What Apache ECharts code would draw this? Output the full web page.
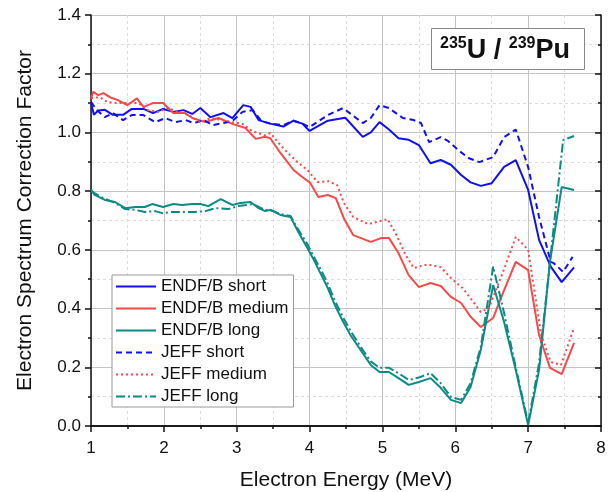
<!DOCTYPE html>
<html><head><meta charset="utf-8">
<script src="https://cdn.jsdelivr.net/npm/echarts@6/dist/echarts.min.js"></script>
<style>html,body{margin:0;padding:0;background:#fff}#c{width:610px;height:492px}</style>
</head><body><div id="c"></div>
<script>
// Energies (MeV) and correction factors
const endfShortE = [1.0,1.04,1.1,1.19,1.3,1.44,1.56,1.72,1.85,1.99,2.13,2.27,2.39,2.5,2.64,2.82,2.94,3.09,3.19,3.3,3.39,3.46,3.64,3.78,3.9,4.0,4.25,4.49,4.73,4.84,4.96,5.09,5.22,5.36,5.5,5.66,5.8,5.94,6.08,6.21,6.35,6.5,6.67,6.83,7.0,7.15,7.31,7.46,7.63];
const endfShortV = [1.10,1.06,1.075,1.077,1.06,1.06,1.08,1.08,1.066,1.08,1.07,1.076,1.063,1.083,1.052,1.066,1.049,1.093,1.087,1.042,1.035,1.03,1.02,1.04,1.03,1.005,1.04,1.05,0.985,1.0,1.035,1.01,0.98,0.975,0.957,0.895,0.906,0.89,0.855,0.83,0.818,0.827,0.883,0.906,0.804,0.634,0.543,0.49,0.54];

const endfMedE = [1.0,1.03,1.1,1.17,1.26,1.37,1.5,1.63,1.72,1.85,1.99,2.13,2.29,2.39,2.57,2.75,2.94,3.12,3.26,3.39,3.46,3.6,3.78,3.9,4.01,4.12,4.25,4.36,4.47,4.6,4.84,4.98,5.09,5.22,5.36,5.5,5.66,5.8,5.94,6.08,6.21,6.35,6.52,6.67,6.83,7.0,7.15,7.3,7.46,7.63];
const endfMedV = [1.115,1.138,1.127,1.134,1.12,1.11,1.093,1.116,1.087,1.1,1.1,1.066,1.066,1.049,1.035,1.049,1.029,1.015,0.978,0.985,0.98,0.93,0.872,0.848,0.828,0.78,0.787,0.776,0.708,0.65,0.627,0.64,0.64,0.589,0.514,0.473,0.487,0.477,0.44,0.419,0.372,0.337,0.368,0.463,0.559,0.531,0.31,0.198,0.177,0.283];

const endfLongE = [1.0,1.05,1.19,1.33,1.47,1.61,1.74,1.84,1.99,2.13,2.25,2.39,2.5,2.61,2.78,2.94,3.05,3.19,3.3,3.39,3.46,3.6,3.74,3.83,3.97,4.05,4.15,4.25,4.35,4.45,4.56,4.7,4.84,4.96,5.09,5.22,5.36,5.5,5.66,5.8,5.94,6.08,6.21,6.35,6.52,6.67,6.83,7.0,7.15,7.3,7.46,7.63];
const endfLongV = [0.805,0.787,0.77,0.763,0.742,0.746,0.746,0.756,0.746,0.756,0.753,0.756,0.756,0.749,0.773,0.753,0.76,0.763,0.742,0.732,0.736,0.719,0.712,0.668,0.606,0.57,0.52,0.47,0.41,0.36,0.31,0.259,0.208,0.184,0.184,0.163,0.14,0.15,0.163,0.13,0.089,0.078,0.133,0.259,0.48,0.354,0.191,0.003,0.191,0.56,0.814,0.804];

const jeffShortE = [1.0,1.08,1.19,1.3,1.44,1.56,1.72,1.88,2.02,2.16,2.3,2.41,2.55,2.67,2.82,2.94,3.08,3.22,3.33,3.39,3.46,3.64,3.78,3.9,4.0,4.25,4.46,4.73,4.84,4.96,5.09,5.28,5.43,5.53,5.64,5.8,5.9,6.04,6.18,6.33,6.52,6.67,6.83,7.0,7.15,7.31,7.35,7.48,7.61];
const jeffShortV = [1.104,1.076,1.052,1.066,1.042,1.059,1.059,1.035,1.049,1.035,1.042,1.032,1.042,1.025,1.032,1.039,1.07,1.076,1.042,1.035,1.03,1.025,1.04,1.03,1.018,1.059,1.083,1.032,1.049,1.093,1.083,1.049,1.042,1.032,0.967,0.984,0.971,0.94,0.913,0.899,0.916,0.984,1.01,0.882,0.712,0.559,0.555,0.525,0.576];

const jeffMedE = [1.0,1.12,1.23,1.36,1.51,1.65,1.78,1.92,2.06,2.2,2.33,2.5,2.64,2.8,2.94,3.08,3.21,3.39,3.46,3.6,3.7,3.83,3.97,4.11,4.26,4.38,4.47,4.6,4.8,4.93,5.07,5.18,5.32,5.43,5.57,5.66,5.8,5.94,6.1,6.25,6.35,6.46,6.65,6.83,7.0,7.18,7.31,7.45,7.62];
const jeffMedV = [1.117,1.12,1.103,1.1,1.1,1.1,1.076,1.07,1.083,1.07,1.06,1.035,1.049,1.042,1.035,1.029,1.005,0.99,0.998,0.957,0.93,0.9,0.872,0.831,0.834,0.82,0.76,0.712,0.688,0.695,0.705,0.657,0.582,0.538,0.548,0.548,0.541,0.504,0.47,0.422,0.388,0.402,0.521,0.644,0.6,0.31,0.218,0.208,0.327];

const jeffLongE = [1.0,1.14,1.33,1.47,1.61,1.74,1.88,1.98,2.11,2.29,2.43,2.57,2.71,2.89,3.02,3.22,3.39,3.46,3.6,3.74,3.83,3.97,4.05,4.15,4.25,4.35,4.45,4.56,4.7,4.84,4.96,5.09,5.22,5.36,5.5,5.66,5.8,5.94,6.08,6.21,6.35,6.52,6.67,6.83,7.0,7.15,7.48,7.63];
const jeffLongV = [0.80,0.78,0.76,0.739,0.736,0.729,0.732,0.725,0.729,0.729,0.729,0.732,0.742,0.739,0.749,0.756,0.736,0.736,0.722,0.715,0.675,0.62,0.58,0.535,0.485,0.425,0.375,0.325,0.27,0.22,0.198,0.198,0.18,0.157,0.165,0.18,0.146,0.099,0.089,0.146,0.27,0.543,0.385,0.2,0.01,0.215,0.974,0.988];

const seriesNames = ['ENDF/B short','ENDF/B medium','ENDF/B long','JEFF short','JEFF medium','JEFF long'];
const xTicks = [1,2,3,4,5,6,7,8];
const yTicks = [0,0.2,0.4,0.6,0.8,1.0,1.2,1.4];

const BLUE = '#1010f5', RED = '#f44a4a', TEAL = '#0d8a84';
const FONT = 'Liberation Sans, Arial, sans-serif';

function pairs(E, V) { return E.map((e, i) => [e, V[i]]); }
function mk(name, E, V, color, type) {
  return { name, type: 'line', data: pairs(E, V), symbol: 'none', showSymbol: false, xAxisIndex: 0, yAxisIndex: 0,
    lineStyle: { color, width: 2, type }, itemStyle: { color }, animation: false };
}

const chart = echarts.init(document.getElementById('c'));
chart.setOption({
  backgroundColor: '#fff',
  animation: false,
  grid: { left: 91, right: 9, top: 15, bottom: 66, containLabel: false, outerBoundsMode: 'none' },
  xAxis: [{
    type: 'value', min: xTicks[0], max: xTicks[xTicks.length - 1], interval: 1,
    name: 'Electron Energy (MeV)', nameLocation: 'middle', nameGap: 44,
    nameTextStyle: { fontSize: 21, fontFamily: FONT, color: '#111' },
    axisLine: { show: true, lineStyle: { color: '#111', width: 1.5 } },
    axisTick: { show: true, inside: false, length: 6, lineStyle: { color: '#111', width: 1.5 } },
    minorTick: { show: true, splitNumber: 2, length: 3, lineStyle: { color: '#111', width: 1.5 } },
    axisLabel: { fontSize: 17, fontFamily: FONT, color: '#111', margin: 14 },
    splitLine: { show: true, lineStyle: { color: '#c4c4c4', width: 1 } },
    minorSplitLine: { show: true, lineStyle: { color: '#dcdcdc', width: 1, type: [3, 3] } }
  }, {
    type: 'value', position: 'top', min: 1, max: 8, interval: 1,
    axisLine: { show: true, lineStyle: { color: '#111', width: 1.5 } },
    axisTick: { show: true, inside: true, length: 6, lineStyle: { color: '#111', width: 1.5 } },
    minorTick: { show: true, splitNumber: 2, length: 3, lineStyle: { color: '#111', width: 1.5 } },
    axisLabel: { show: false }, splitLine: { show: false }
  }],
  yAxis: [{
    type: 'value', min: yTicks[0], max: yTicks[yTicks.length - 1], interval: 0.2,
    name: 'Electron Spectrum Correction Factor', nameLocation: 'middle', nameGap: 55,
    nameTextStyle: { fontSize: 21, fontFamily: FONT, color: '#111' },
    axisLine: { show: true, lineStyle: { color: '#111', width: 1.5 } },
    axisTick: { show: true, inside: false, length: 6, lineStyle: { color: '#111', width: 1.5 } },
    minorTick: { show: true, splitNumber: 2, length: 3, lineStyle: { color: '#111', width: 1.5 } },
    axisLabel: { fontSize: 17, fontFamily: FONT, color: '#111', margin: 10, formatter: v => v.toFixed(1) },
    splitLine: { show: true, lineStyle: { color: '#c4c4c4', width: 1 } },
    minorSplitLine: { show: true, lineStyle: { color: '#dcdcdc', width: 1, type: [3, 3] } }
  }, {
    type: 'value', position: 'right', min: 0, max: 1.4, interval: 0.2,
    axisLine: { show: true, lineStyle: { color: '#111', width: 1.5 } },
    axisTick: { show: true, inside: true, length: 6, lineStyle: { color: '#111', width: 1.5 } },
    minorTick: { show: true, splitNumber: 2, length: 3, lineStyle: { color: '#111', width: 1.5 } },
    axisLabel: { show: false }, splitLine: { show: false }
  }],
  legend: {
    data: seriesNames, orient: 'vertical', left: 112, top: 275,
    padding: [3, 5, 2, 3], itemWidth: 40, itemHeight: 14, itemGap: 5,
    itemStyle: { opacity: 0 },
    backgroundColor: '#fff', borderColor: '#999', borderWidth: 1,
    textStyle: { fontSize: 17, fontFamily: FONT, color: '#111' }
  },
  graphic: [
    { type: 'rect', left: 431, top: 28, z: 100,
      shape: { width: 153, height: 41 }, style: { fill: '#fff', stroke: '#888', lineWidth: 1 } },
    { type: 'text', x: 505, y: 50, z: 101,
      style: { text: '{s|235}{b|U / }{s|239}{b|Pu}', align: 'center', verticalAlign: 'middle',
        rich: {
          s: { fontSize: 16, fontWeight: 'bold', fontFamily: FONT, fill: '#111', verticalAlign: 'top', lineHeight: 28 },
          b: { fontSize: 27, fontWeight: 'bold', fontFamily: FONT, fill: '#111', verticalAlign: 'bottom', lineHeight: 28 }
        } } }
  ],
  series: [
    mk(seriesNames[0], endfShortE, endfShortV, BLUE, 'solid'),
    mk(seriesNames[1], endfMedE, endfMedV, RED, 'solid'),
    mk(seriesNames[2], endfLongE, endfLongV, TEAL, 'solid'),
    mk(seriesNames[3], jeffShortE, jeffShortV, BLUE, [6, 4]),
    mk(seriesNames[4], jeffMedE, jeffMedV, RED, [2, 3]),
    mk(seriesNames[5], jeffLongE, jeffLongV, TEAL, [9, 3, 2, 3])
  ]
});
</script></body></html>
